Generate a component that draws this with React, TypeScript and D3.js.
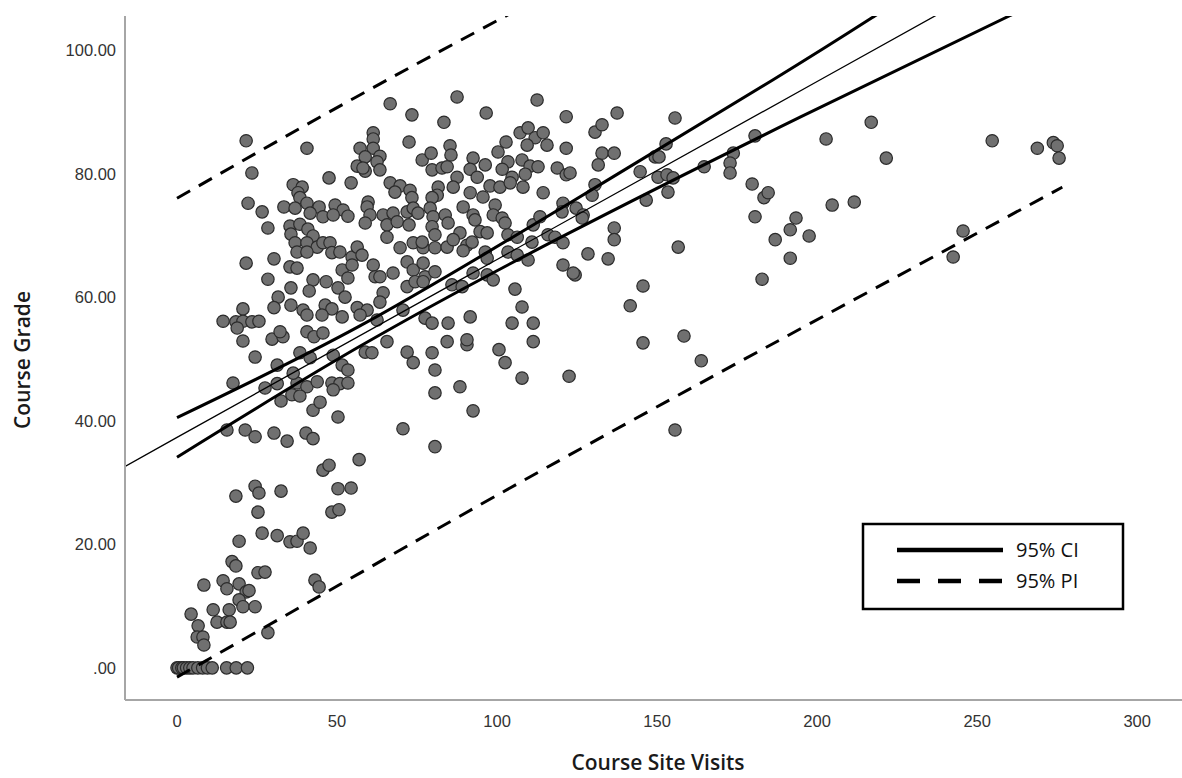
import React from 'react'
import * as d3 from 'd3'

// course site visits vs course grade, one pair per student
const students: [number, number][] = [
  // zero grades
  [0, 0], [0.5, 0], [1.5, 0], [2, 0], [3, 0], [4, 0], [5, 0], [6.5, 0], [8, 0], [9.5, 0], [11, 0], [15.5, 0], [18.5, 0], [22, 0],
  // low visits, low grades
  [17.5, 46.1], [27.5, 45.3], [31.3, 46.0], [37.5, 46.1], [40.6, 45.5], [43.8, 46.3], [35.9, 44.2], [38.4, 44.0], [32.5, 43.2],
  [48.4, 46.1], [50.9, 46.0], [53.4, 46.1], [48.8, 45.0], [42.5, 41.7], [44.7, 43.0], [50.3, 40.6], [15.6, 38.5], [21.3, 38.5],
  [24.4, 37.4], [30.3, 38.0], [34.4, 36.7], [40.3, 38.0], [42.5, 37.1], [45.6, 32.0], [47.5, 32.8], [56.9, 33.7], [50.3, 29.0],
  [54.4, 29.1], [48.4, 25.2], [50.6, 25.6], [18.4, 27.8], [24.4, 29.4], [25.6, 28.3], [32.5, 28.6], [25.3, 25.2], [19.4, 20.5],
  [26.6, 21.8], [31.3, 21.4], [35.3, 20.4], [37.5, 20.5], [39.4, 21.8], [41.6, 19.4], [17.2, 17.2], [18.4, 16.5], [25.3, 15.4],
  [27.5, 15.5], [43.1, 14.2], [44.4, 13.1], [8.4, 13.4], [14.4, 14.1], [15.6, 12.8], [19.4, 13.6], [21.6, 12.3], [22.5, 12.5],
  [19.4, 11.0], [20.6, 9.9], [24.4, 9.9], [11.3, 9.4], [16.3, 9.4], [12.5, 7.4], [15.6, 7.4], [16.6, 7.4], [4.4, 8.7], [6.6, 6.8],
  [6.3, 5.0], [8.1, 5.0], [8.4, 3.7], [28.4, 5.7],
  // low visits, upper cloud
  [21.6, 85.3], [40.6, 84.1], [23.4, 80.1], [47.5, 79.3], [54.4, 78.5], [56.3, 81.2], [58.8, 80.4], [36.3, 78.2], [39.1, 77.8],
  [37.8, 76.9], [38.4, 76.1], [22.2, 75.2], [26.6, 73.8], [33.4, 74.6], [36.9, 74.4], [40.6, 75.2], [44.4, 74.6], [49.4, 74.9],
  [51.9, 74.1], [53.4, 73.1], [41.6, 73.6], [45.6, 73.0], [48.8, 73.3], [28.4, 71.2], [35.3, 71.5], [38.4, 71.8], [35.6, 70.2],
  [40.9, 71.0], [42.5, 69.9], [36.9, 68.8], [40.6, 68.8], [43.8, 68.1], [45.6, 68.8], [47.8, 68.8], [37.5, 67.3], [40.6, 67.3],
  [48.4, 67.2], [50.9, 67.3], [54.7, 66.5], [56.3, 68.1], [21.6, 65.5], [30.3, 66.2], [35.3, 64.9], [37.5, 64.7], [51.6, 64.4],
  [53.4, 63.1], [54.7, 65.2], [28.4, 62.9], [42.5, 62.8], [46.6, 62.5], [35.6, 61.5], [41.3, 61.0], [50.3, 61.5], [52.5, 60.0],
  [31.6, 60.0], [30.3, 58.3], [20.6, 58.1], [35.6, 58.7], [39.4, 57.9], [40.6, 57.1], [46.3, 58.7], [48.4, 58.1], [45.3, 57.1],
  [51.6, 56.8], [56.3, 58.3], [14.4, 56.1], [18.4, 56.0], [20.6, 56.1], [23.4, 56.0], [25.6, 56.1], [18.8, 55.0], [20.6, 52.9],
  [29.7, 53.2], [33.1, 53.6], [32.2, 54.4], [40.6, 54.4], [42.8, 53.6], [45.6, 54.2], [24.4, 50.3], [31.3, 49.0], [38.4, 51.0],
  [41.6, 50.2], [36.3, 47.7], [48.8, 50.6], [51.6, 49.0], [53.4, 48.2],
  // middle visits
  [66.6, 91.3], [87.5, 92.4], [112.5, 91.9], [73.4, 89.5], [96.6, 89.8], [83.4, 88.3], [61.3, 86.6], [61.3, 85.6], [72.5, 85.1],
  [107.2, 86.6], [109.7, 87.4], [111.9, 85.8], [114.4, 86.6], [109.4, 84.6], [115.6, 84.6], [57.2, 84.1], [61.3, 84.1], [58.8, 82.7],
  [63.4, 82.8], [62.5, 81.9], [58.1, 80.9], [63.4, 80.6], [76.6, 82.2], [79.4, 83.3], [85.3, 84.5], [85.6, 83.0], [79.7, 80.6],
  [82.8, 80.9], [84.4, 81.1], [92.5, 82.5], [91.6, 80.7], [96.3, 81.4], [93.8, 79.4], [87.5, 79.4], [100.3, 83.5], [102.8, 85.1],
  [103.4, 81.9], [101.6, 80.7], [107.8, 82.2], [110.3, 81.2], [112.8, 81.1], [104.7, 79.4], [108.8, 79.9], [108.1, 77.8],
  [114.4, 76.9], [118.8, 80.9], [66.6, 78.5], [69.7, 78.0], [68.1, 77.0], [72.8, 77.3], [73.4, 76.1], [81.6, 77.8], [81.3, 76.5],
  [79.7, 76.1], [86.3, 77.8], [91.6, 76.9], [95.6, 76.2], [97.8, 78.0], [100.9, 77.8], [104.1, 78.5], [59.7, 75.4], [59.4, 74.6],
  [60.3, 73.3], [58.8, 72.0], [64.4, 73.3], [67.5, 73.6], [65.6, 71.7], [68.8, 72.2], [71.9, 73.8], [73.8, 74.4], [75.3, 73.6],
  [72.5, 71.7], [79.1, 74.4], [80.0, 73.0], [83.8, 73.3], [84.7, 72.0], [79.7, 71.4], [80.6, 70.1], [88.4, 70.4], [89.4, 74.6],
  [92.5, 73.3], [93.1, 72.5], [94.7, 70.6], [96.9, 70.4], [99.4, 74.9], [98.8, 73.3], [101.6, 72.8], [102.5, 72.0], [103.4, 70.1],
  [106.3, 69.7], [111.3, 71.7], [113.4, 73.0], [115.9, 70.1], [118.1, 69.7], [65.6, 69.7], [69.7, 68.0], [73.8, 68.8], [76.9, 68.0],
  [76.6, 68.9], [80.6, 68.0], [84.4, 68.1], [86.3, 69.3], [90.6, 68.4], [92.2, 68.9], [57.8, 66.8], [61.3, 65.2], [61.9, 63.3],
  [63.4, 63.3], [67.5, 63.9], [71.9, 65.7], [73.8, 64.4], [76.9, 65.5], [77.5, 63.3], [80.6, 64.1], [89.4, 67.5], [96.3, 67.3],
  [96.9, 66.3], [103.4, 67.3], [106.3, 66.8], [109.7, 66.0], [110.9, 68.9], [71.9, 61.7], [74.4, 62.5], [76.9, 62.5], [85.9, 62.0],
  [89.1, 61.7], [92.5, 63.9], [96.9, 63.6], [98.8, 62.8], [105.6, 61.3], [107.8, 58.4], [104.7, 55.8], [111.3, 55.8], [111.3, 52.8],
  [100.6, 51.5], [102.5, 49.4], [107.8, 46.9], [64.4, 60.7], [63.4, 59.2], [59.4, 57.9], [57.2, 57.1], [62.5, 56.3], [70.6, 57.9],
  [77.5, 56.6], [79.7, 55.8], [84.7, 55.8], [91.6, 56.8], [65.6, 52.8], [58.8, 51.1], [60.9, 51.0], [71.9, 51.1], [73.8, 49.4],
  [79.7, 51.0], [80.6, 48.2], [84.4, 52.8], [90.6, 52.3], [90.6, 53.1], [122.5, 47.2], [80.6, 44.5], [88.4, 45.5], [92.5, 41.6],
  [70.6, 38.7], [80.6, 35.8],
  // higher visits
  [121.6, 89.2], [137.5, 89.8], [155.6, 89.0], [130.6, 86.7], [132.8, 87.9], [121.6, 84.1], [132.8, 83.3], [136.6, 83.3],
  [131.6, 81.4], [121.6, 79.8], [122.8, 80.1], [152.8, 84.8], [149.4, 82.7], [150.6, 82.7], [144.7, 80.3], [150.3, 79.4],
  [153.1, 79.8], [155.0, 79.3], [153.4, 77.0], [146.6, 75.7], [130.6, 78.2], [129.7, 76.5], [120.6, 75.2], [120.3, 73.8],
  [124.7, 74.4], [126.9, 73.3], [126.6, 72.8], [136.6, 71.2], [136.6, 69.3], [120.6, 68.8], [128.4, 67.0], [134.7, 66.2],
  [120.6, 65.2], [124.4, 63.6], [123.8, 63.9], [156.6, 68.1], [145.6, 61.8], [141.6, 58.6], [145.6, 52.6], [158.4, 53.7],
  [163.8, 49.7], [155.6, 38.5], [164.7, 81.1], [173.8, 83.3], [172.8, 81.7], [172.8, 80.1], [180.6, 86.1], [179.7, 78.3],
  [183.4, 76.1], [184.7, 76.9], [180.6, 73.0], [193.4, 72.8], [191.6, 70.9], [186.9, 69.3], [191.6, 66.3], [182.8, 62.9],
  [216.9, 88.3], [202.8, 85.6], [221.6, 82.5], [254.7, 85.3], [268.8, 84.1], [273.8, 85.0], [275.0, 84.5], [275.6, 82.5],
  [204.7, 74.9], [211.6, 75.4], [197.5, 69.9], [245.6, 70.7], [242.5, 66.5]
]

// fitted line and interval bands, read at a few visit counts
const fitLine: [number, number][] = [[-16.25, 32.6], [0, 37.3], [100, 66.1], [200, 94.9], [250, 109.3]]
const ciUpper: [number, number][] = [[0, 40.5], [57, 55.3], [120, 74.4], [186, 95.1], [218, 105.5], [240, 112.8]]
const ciLower: [number, number][] = [[0, 34.1], [57, 52.0], [120, 69.7], [195, 89.2], [260, 105.5], [275, 109.2]]
const piUpper: [number, number][] = [[0, 76.0], [56, 92.4], [102, 105.3], [120, 110.4]]
const piLower: [number, number][] = [[0, -1.5], [57, 15.3], [135, 38.0], [276.6, 77.8]]

const xTicks = [0, 50, 100, 150, 200, 250, 300]
const yTicks = [0, 20, 40, 60, 80, 100]
const legendItems = ['95% CI', '95% PI']

const App = () => {
  const width = 1182,
    height = 778,
    left = 125,
    right = 1182,
    top = 16,
    bottom = 700

  const x = d3.scaleLinear().domain([-16.25, 314]).range([left, right])
  const y = d3.scaleLinear().domain([-5.2, 105.5]).range([bottom, top])

  const line = d3
    .line<[number, number]>()
    .x(d => x(d[0]))
    .y(d => y(d[1]))
    .curve(d3.curveNatural)

  const fmtY = (v: number) => (v === 0 ? '.00' : v.toFixed(2))

  return (
    <svg width={width} height={height} style={{ display: 'block' }}>
      <style>{'body{margin:0}'}</style>
      <defs>
        <clipPath id='plot'>
          <rect x={left} y={top} width={right - left} height={bottom - top} />
        </clipPath>
      </defs>
      <rect width={width} height={height} fill='#fff' />

      <g className='points'>
        {students.map((d, i) => (
          <circle
            key={i}
            cx={x(d[0])}
            cy={y(d[1])}
            r={6.2}
            fill='#707070'
            stroke='#2b2b2b'
            strokeWidth={1.2}
          />
        ))}
      </g>

      <g clipPath='url(#plot)' fill='none' stroke='#000'>
        <path d={line(fitLine) || ''} strokeWidth={1.3} />
        <path d={line(ciUpper) || ''} strokeWidth={3} />
        <path d={line(ciLower) || ''} strokeWidth={3} />
        <path d={line(piUpper) || ''} strokeWidth={3} strokeDasharray='15 10' />
        <path d={line(piLower) || ''} strokeWidth={3} strokeDasharray='15 10' />
      </g>

      <g className='axis' stroke='#a6a6a6' strokeWidth={2}>
        <line x1={left} x2={left} y1={top} y2={bottom} />
        <line x1={left} x2={right} y1={bottom} y2={bottom} />
      </g>

      <g fontFamily='Liberation Sans, Arial, sans-serif' fontSize={16.5} fill='#333'>
        {yTicks.map(t => (
          <text key={t} x={116} y={y(t)} dy='.36em' textAnchor='end'>
            {fmtY(t)}
          </text>
        ))}
        {xTicks.map(t => (
          <text key={t} x={x(t)} y={727} textAnchor='middle'>
            {t}
          </text>
        ))}
      </g>

      <g fontFamily='Open Sans, sans-serif' fontWeight={600} fontSize={21} fill='#1a1a1a'>
        <text x={658} y={770} textAnchor='middle'>
          Course Site Visits
        </text>
        <text transform='translate(30,360) rotate(-90)' textAnchor='middle'>
          Course Grade
        </text>
      </g>

      <g className='legend'>
        <rect x={863} y={524} width={260} height={85} fill='#fff' stroke='#000' strokeWidth={2.5} />
        {legendItems.map((d, i) => (
          <g key={d} transform={`translate(0,${550 + i * 31})`}>
            <line
              x1={897}
              x2={1003}
              stroke='#000'
              strokeWidth={4.5}
              strokeDasharray={i === 1 ? '23 18' : undefined}
            />
            <text x={1016} dy='.36em' fontFamily='Open Sans, sans-serif' fontSize={20} fill='#111'>
              {d}
            </text>
          </g>
        ))}
      </g>
    </svg>
  )
}

export default App
